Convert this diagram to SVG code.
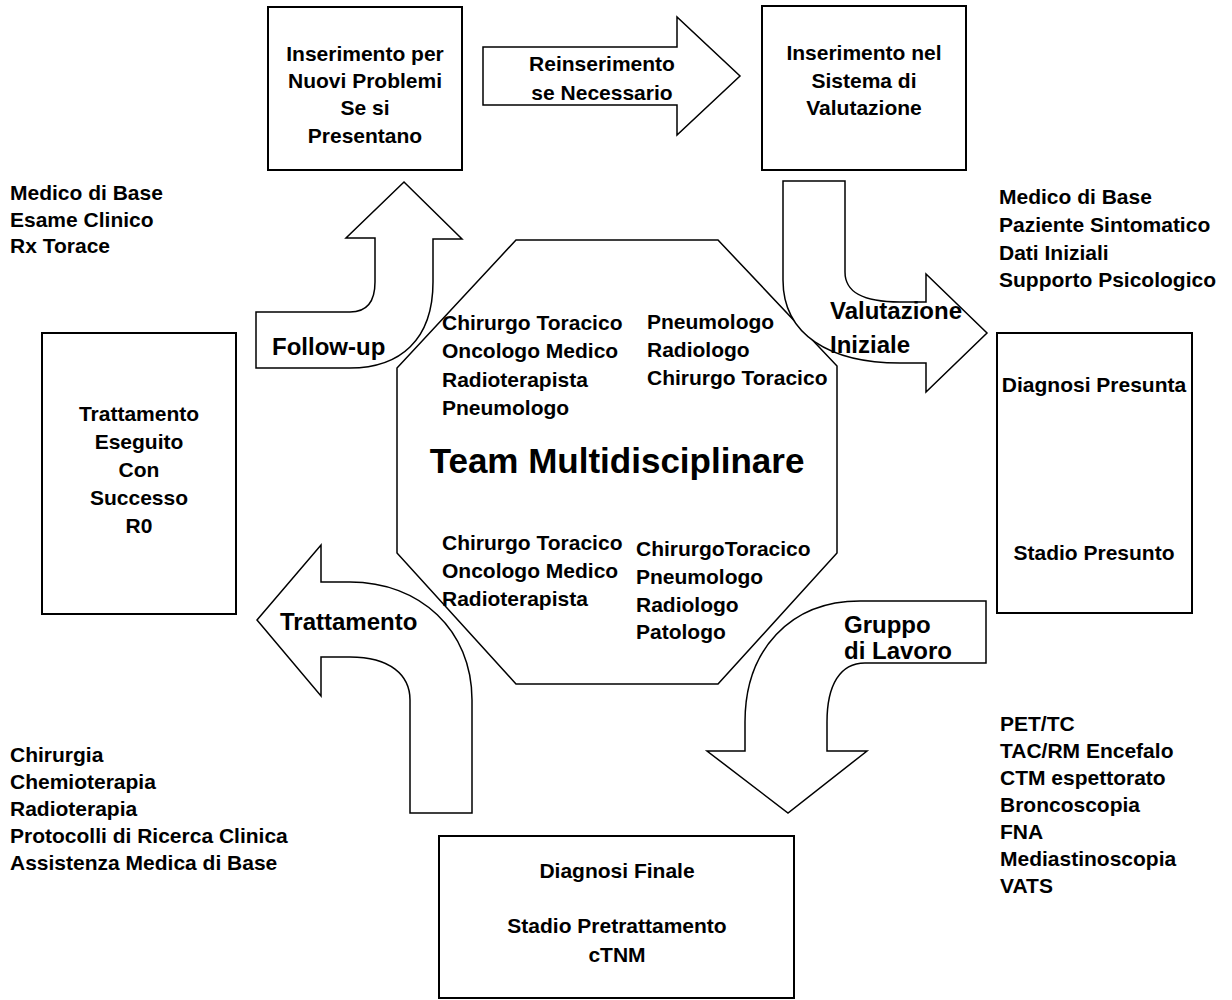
<svg xmlns="http://www.w3.org/2000/svg" width="1232" height="1000" viewBox="0 0 1232 1000">
  <style>
    text { font-family: "Liberation Sans", Arial, sans-serif; font-weight: bold; fill: #000; }
    .t21 { font-size: 21px; }
    .t24 { font-size: 24px; }
    .mid { text-anchor: middle; }
    .box { fill: #fff; stroke: #000; stroke-width: 2; }
    .arrow { fill: #fff; stroke: #000; stroke-width: 1.5; stroke-linejoin: miter; }
    .oct { fill: #fff; stroke: #000; stroke-width: 1.5; }
  </style>
  <rect width="1232" height="1000" fill="#fff"/>

  <!-- central team -->
  <g id="team">
    <polygon class="oct" points="516,240 718,240 837,366 837,553 718,684 516,684 397,553 397,368"/>
    <text class="t21" x="442" y="330">Chirurgo Toracico</text>
    <text class="t21" x="442" y="358">Oncologo Medico</text>
    <text class="t21" x="442" y="387">Radioterapista</text>
    <text class="t21" x="442" y="415">Pneumologo</text>
    <text class="t21" x="647" y="329">Pneumologo</text>
    <text class="t21" x="647" y="357">Radiologo</text>
    <text class="t21" x="647" y="385">Chirurgo Toracico</text>
    <text class="mid" x="617" y="473" font-size="35">Team Multidisciplinare</text>
    <text class="t21" x="442" y="550">Chirurgo Toracico</text>
    <text class="t21" x="442" y="578">Oncologo Medico</text>
    <text class="t21" x="442" y="606">Radioterapista</text>
    <text class="t21" x="636" y="556">ChirurgoToracico</text>
    <text class="t21" x="636" y="584">Pneumologo</text>
    <text class="t21" x="636" y="612">Radiologo</text>
    <text class="t21" x="636" y="639">Patologo</text>
  </g>

  <!-- flow arrows -->
  <g id="connectors">
    <path id="arrow-reinserimento" class="arrow" d="M483,47 L677,47 L677,17 L740,76 L677,135 L677,105 L483,105 Z"/>
    <path id="arrow-valutazione" class="arrow" d="M783,181 L845,181 L845,272 C845,292 862,302 900,302 L926,302 L926,274 L987,333 L926,392 L926,363 L900,363 C830,363 783,335 783,280 Z"/>
    <path id="arrow-gruppo" class="arrow" d="M986,601 L986,663 L865,663 C840,663 827,685 827,722 L827,751 L867,751 L788,813 L707,751 L745,751 L745,722 C745,650 790,601 860,601 Z"/>
    <path id="arrow-trattamento" class="arrow" d="M257,620 L321,545 L321,582 L350,582 C420,582 472,630 472,700 L472,813 L410,813 L410,700 C410,675 390,657 350,657 L321,657 L321,696 Z"/>
    <path id="arrow-followup" class="arrow" d="M256,312 L350,312 C368,312 375,300 375,282 L375,238 L346,238 L404,182 L462,239 L433,239 L433,282 C433,340 400,368 350,368 L256,368 Z"/>
    <text class="t21 mid" x="602" y="71">Reinserimento</text>
    <text class="t21 mid" x="602" y="100">se Necessario</text>
    <text class="t24" x="830" y="319">Valutazione</text>
    <text class="t24" x="830" y="353">Iniziale</text>
    <text class="t24" x="844" y="633">Gruppo</text>
    <text class="t24" x="844" y="659">di Lavoro</text>
    <text class="t24" x="280" y="630">Trattamento</text>
    <text class="t24" x="272" y="355">Follow-up</text>
  </g>

  <g id="nuovi-problemi">
    <rect class="box" x="268" y="7" width="194" height="163"/>
    <text class="t21 mid" x="365" y="61">Inserimento per</text>
    <text class="t21 mid" x="365" y="88">Nuovi Problemi</text>
    <text class="t21 mid" x="365" y="115">Se si</text>
    <text class="t21 mid" x="365" y="143">Presentano</text>
  </g>

  <g id="sistema-valutazione">
    <rect class="box" x="762" y="6" width="204" height="164"/>
    <text class="t21 mid" x="864" y="60">Inserimento nel</text>
    <text class="t21 mid" x="864" y="88">Sistema di</text>
    <text class="t21 mid" x="864" y="115">Valutazione</text>
  </g>

  <g id="diagnosi-presunta">
    <rect class="box" x="997" y="333" width="195" height="280"/>
    <text class="t21 mid" x="1094" y="392">Diagnosi Presunta</text>
    <text class="t21 mid" x="1094" y="560">Stadio Presunto</text>
  </g>

  <g id="trattamento-eseguito">
    <rect class="box" x="42" y="333" width="194" height="281"/>
    <text class="t21 mid" x="139" y="421">Trattamento</text>
    <text class="t21 mid" x="139" y="449">Eseguito</text>
    <text class="t21 mid" x="139" y="477">Con</text>
    <text class="t21 mid" x="139" y="505">Successo</text>
    <text class="t21 mid" x="139" y="533">R0</text>
  </g>

  <g id="diagnosi-finale">
    <rect class="box" x="439" y="836" width="355" height="162"/>
    <text class="t21 mid" x="617" y="878">Diagnosi Finale</text>
    <text class="t21 mid" x="617" y="933">Stadio Pretrattamento</text>
    <text class="t21 mid" x="617" y="962">cTNM</text>
  </g>

  <g id="note-medico-base">
    <text class="t21" x="10" y="200">Medico di Base</text>
    <text class="t21" x="10" y="227">Esame Clinico</text>
    <text class="t21" x="10" y="253">Rx Torace</text>
  </g>

  <g id="note-paziente">
    <text class="t21" x="999" y="204">Medico di Base</text>
    <text class="t21" x="999" y="232">Paziente Sintomatico</text>
    <text class="t21" x="999" y="260">Dati Iniziali</text>
    <text class="t21" x="999" y="287">Supporto Psicologico</text>
  </g>

  <g id="note-esami">
    <text class="t21" x="1000" y="731">PET/TC</text>
    <text class="t21" x="1000" y="758">TAC/RM Encefalo</text>
    <text class="t21" x="1000" y="785">CTM espettorato</text>
    <text class="t21" x="1000" y="812">Broncoscopia</text>
    <text class="t21" x="1000" y="839">FNA</text>
    <text class="t21" x="1000" y="866">Mediastinoscopia</text>
    <text class="t21" x="1000" y="893">VATS</text>
  </g>

  <g id="note-terapie">
    <text class="t21" x="10" y="762">Chirurgia</text>
    <text class="t21" x="10" y="789">Chemioterapia</text>
    <text class="t21" x="10" y="816">Radioterapia</text>
    <text class="t21" x="10" y="843">Protocolli di Ricerca Clinica</text>
    <text class="t21" x="10" y="870">Assistenza Medica di Base</text>
  </g>
</svg>
